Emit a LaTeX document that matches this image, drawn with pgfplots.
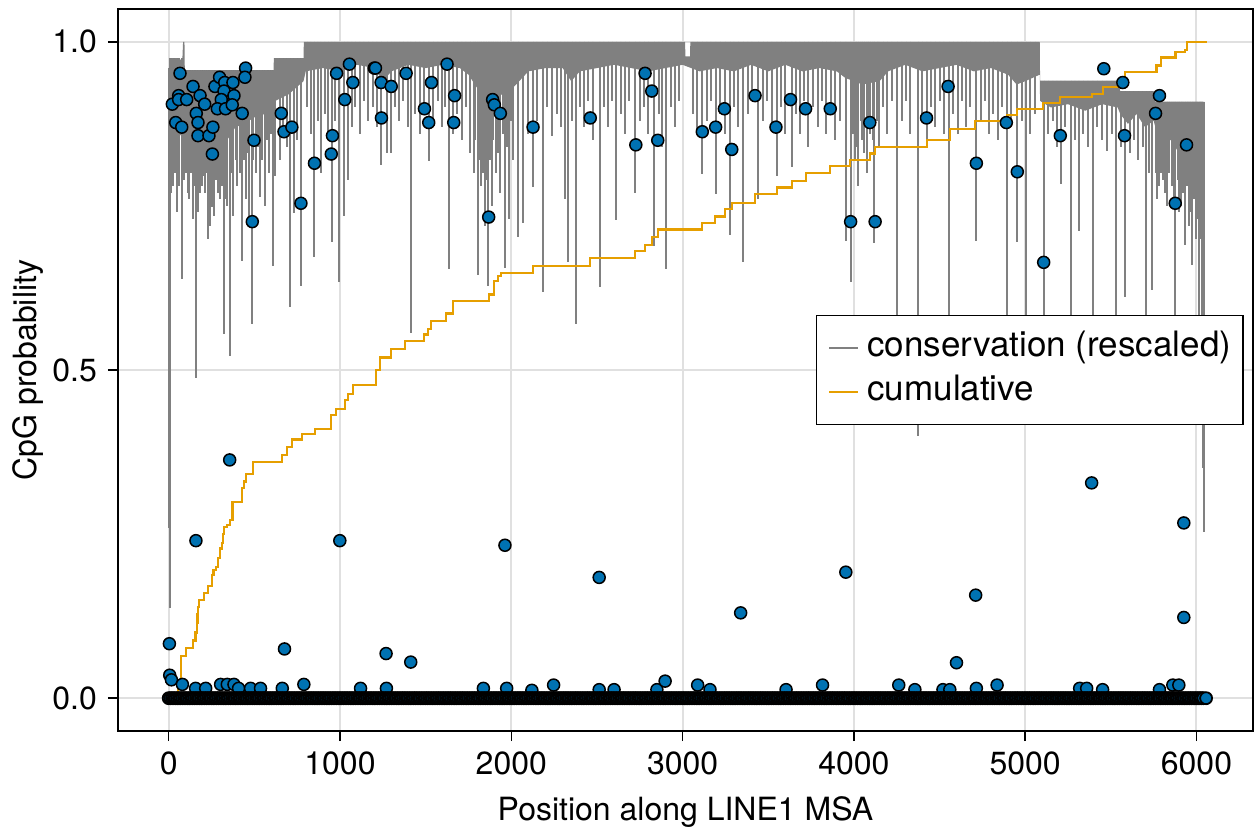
\documentclass[border=0pt]{standalone}
\usepackage{pgfplots}
\pgfplotsset{compat=1.18}
\usepackage{fontspec}
\setmainfont{TeX Gyre Heros}
\definecolor{cgray}{RGB}{128,128,128}
\definecolor{cblue}{RGB}{0,114,178}
\definecolor{corange}{RGB}{230,159,0}
\begin{document}
\fontsize{16}{19}\selectfont
\begin{tikzpicture}
\useasboundingbox (-59pt,-50.5pt) rectangle (568pt,365.5pt);
\begin{axis}[
  scale only axis, width=567.5pt, height=361pt,
  xmin=-296, xmax=6330, ymin=-0.05, ymax=1.05,
  xtick={0,1000,2000,3000,4000,5000,6000},
  xticklabels={0,1000,2000,3000,4000,5000,6000},
  ytick={0,0.5,1}, yticklabels={0.0,0.5,1.0},
  scaled ticks=false,
  /pgf/number format/assume math mode=true,
  tick label style={font=\fontsize{16}{19}\selectfont},
  label style={font=\fontsize{16}{19}\selectfont},
  xlabel={Position along LINE1 MSA}, ylabel={CpG probability},
  xlabel style={at={(axis description cs:0.5,-0.12327)}, anchor=base},
  ylabel style={at={(axis description cs:-0.07137,0.5)}, anchor=base},
  grid=major, major grid style={draw=black!12, line width=1pt},
  axis line style={line width=0.75pt},
  tick align=outside, xtick pos=bottom, ytick pos=left,
  major tick length=5pt, tick style={black, line width=0.75pt},
  legend cell align=left,
  legend image code/.code={\draw[#1] (0pt,0pt) -- (14.5pt,0pt);},
  legend style={at={(axis description cs:0.992,0.5)}, anchor=east,
    draw=black, line width=0.75pt, fill=white,
    font=\fontsize{17.5}{21}\selectfont,
    inner xsep=6pt, inner ysep=7.5pt, row sep=4.5pt, column sep=4pt,
    nodes={inner sep=0pt, text height=13pt, text depth=4.5pt}},
]
% conservation: dense band
\addplot[draw=none, fill=cgray, forget plot] coordinates {
(0,0.96) (80,0.975) (84,1.0) (92,1.0) (94,0.957) (612,0.957) (614,0.975) (787,0.975) (789,1.0)
(3015,1.0) (3016,0.978) (3044,0.978) (3045,1.0) (5085,1.0) (5087,0.941) (5540,0.941) (5555,0.925)
(5750,0.925) (5760,0.909) (6040,0.909)
(6040,0.84) (5990,0.82) (5950,0.84) (5900,0.83) (5850,0.85) (5800,0.86) (5760,0.87) (5750,0.88)
(5700,0.87) (5650,0.89) (5600,0.875) (5555,0.89) (5540,0.90) (5450,0.905) (5350,0.895) (5250,0.905)
(5150,0.90) (5087,0.91) (5085,0.95) (5000,0.94) (4950,0.935) (4900,0.95) (4800,0.96) (4700,0.955)
(4600,0.965) (4500,0.96) (4400,0.955) (4300,0.965) (4200,0.955) (4150,0.94) (4050,0.935) (3950,0.945)
(3900,0.955) (3800,0.96) (3700,0.955) (3600,0.965) (3500,0.955) (3400,0.965) (3300,0.955) (3200,0.96)
(3100,0.955) (3000,0.965) (2900,0.96) (2800,0.955) (2700,0.96) (2600,0.965) (2500,0.96) (2400,0.955)
(2350,0.94) (2300,0.96) (2200,0.96) (2100,0.955) (2010,0.93) (1950,0.92) (1880,0.915) (1800,0.93)
(1750,0.95) (1700,0.96) (1600,0.965) (1500,0.96) (1400,0.965) (1300,0.955) (1250,0.94) (1200,0.96)
(1100,0.965) (1000,0.955) (900,0.96) (800,0.955) (787,0.94) (700,0.92) (622,0.91) (560,0.89)
(500,0.885) (440,0.875) (390,0.87) (340,0.85) (300,0.84) (250,0.845) (200,0.85) (150,0.845)
(100,0.85) (60,0.86) (20,0.85) (0,0.87)
} -- cycle;
% conservation: spikes (x, band top, dip)
\addplot[forget plot, only marks, mark=*, mark size=0pt, mark options={draw=none, fill=none},
  error bars/.cd, y dir=minus, y explicit, error mark=none,
  error bar style={draw=cgray, line width=1pt}]
  table[x=x, y=top, y error expr=\thisrow{top}-\thisrow{low}] {
x top low
4 0.96 0.26
6 0.96 0.137
10 0.975 0.80
15 0.975 0.77
26 0.975 0.78
36 0.975 0.80
50 0.975 0.74
60 0.975 0.78
78 0.975 0.639
90 0.957 0.79
100 0.957 0.80
110 0.957 0.77
120 0.957 0.76
130 0.957 0.80
140 0.957 0.73
150 0.957 0.78
159 0.957 0.488
170 0.957 0.74
185 0.957 0.77
195 0.957 0.78
200 0.957 0.795
210 0.957 0.77
220 0.957 0.80
230 0.957 0.70
240 0.957 0.72
255 0.957 0.749
266 0.957 0.735
275 0.957 0.79
285 0.957 0.77
297 0.957 0.76
310 0.957 0.78
321 0.957 0.555
330 0.957 0.76
340 0.957 0.75
356 0.957 0.522
365 0.957 0.80
376 0.957 0.734
390 0.957 0.82
400 0.957 0.78
415 0.957 0.80
428 0.957 0.666
440 0.957 0.82
450 0.957 0.76
460 0.957 0.83
471 0.957 0.734
486 0.957 0.570
495 0.957 0.82
510 0.957 0.80
520 0.957 0.84
531 0.957 0.764
545 0.957 0.82
560 0.957 0.75
575 0.957 0.85
585 0.957 0.80
595 0.957 0.86
608 0.957 0.659
618 0.975 0.795
647 0.975 0.82
670 0.975 0.86
690 0.975 0.84
709 0.975 0.596
730 0.975 0.739
750 0.975 0.85
772 0.975 0.628
810 1 0.90
830 1 0.86
851 1 0.672
870 1 0.88
889 1 0.80
910 1 0.89
930 1 0.85
952 1 0.695
970 1 0.88
997 1 0.634
1026 1 0.735
1045 1 0.79
1070 1 0.87
1090 1 0.90
1115 1 0.86
1140 1 0.91
1165 1 0.88
1190 1 0.90
1215 1 0.87
1242 1 0.812
1276 1 0.83
1299 1 0.83
1320 1 0.90
1345 1 0.88
1370 1 0.91
1395 1 0.87
1413 1 0.557
1440 1 0.89
1465 1 0.86
1490 1 0.90
1518 1 0.818
1545 1 0.88
1570 1 0.91
1595 1 0.87
1615 1 0.90
1639 1 0.654
1660 1 0.86
1685 1 0.89
1710 1 0.85
1735 1 0.90
1760 1 0.83
1780 1 0.80
1790 1 0.85
1804 1 0.644
1815 1 0.82
1825 1 0.78
1835 1 0.80
1845 1 0.72
1855 1 0.79
1866 1 0.628
1875 1 0.82
1885 1 0.75
1895 1 0.85
1910 1 0.80
1920 1 0.83
1935 1 0.77
1950 1 0.86
1963 1 0.656
1975 1 0.84
1985 1 0.73
2000 1 0.88
2010 1 0.82
2041 1 0.702
2068 1 0.724
2095 1 0.86
2127 1 0.779
2150 1 0.88
2185 1 0.619
2210 1 0.90
2237 1 0.856
2265 1 0.89
2290 1 0.87
2311 1 0.761
2331 1 0.664
2355 1 0.88
2377 1 0.570
2400 1 0.90
2425 1 0.87
2450 1 0.91
2475 1 0.85
2515 1 0.626
2540 1 0.90
2565 1 0.87
2590 1 0.91
2612 1 0.729
2640 1 0.89
2665 1 0.86
2690 1 0.91
2725 1 0.769
2750 1 0.88
2775 1 0.90
2800 1 0.86
2836 1 0.689
2860 1 0.89
2880 1 0.84
2902 1 0.654
2930 1 0.90
2955 1 0.87
2980 1 0.91
3060 1 0.89
3085 1 0.86
3116 1 0.799
3140 1 0.88
3165 1 0.91
3195 1 0.768
3220 1 0.89
3250 1 0.86
3277 1 0.705
3300 1 0.90
3325 1 0.87
3355 1 0.664
3380 1 0.89
3405 1 0.92
3442 1 0.761
3470 1 0.88
3495 1 0.91
3520 1 0.87
3549 1 0.796
3575 1 0.90
3600 1 0.86
3637 1 0.809
3660 1 0.89
3685 1 0.86
3710 1 0.91
3735 1 0.84
3760 1 0.90
3790 1 0.87
3815 1 0.91
3840 1 0.86
3865 1 0.89
3890 1 0.85
3920 1 0.88
3953 1 0.697
3983 1 0.634
3995 1 0.86
4005 1 0.82
4015 1 0.84
4025 1 0.781
4040 1 0.88
4050 1 0.85
4060 1 0.83
4075 1 0.80
4085 1 0.87
4095 1 0.86
4110 1 0.85
4120 1 0.693
4135 1 0.88
4145 1 0.84
4170 1 0.90
4195 1 0.86
4220 1 0.91
4253 1 0.50
4280 1 0.88
4305 1 0.91
4330 1 0.86
4375 1 0.40
4400 1 0.89
4425 1 0.85
4450 1 0.90
4475 1 0.87
4500 1 0.91
4525 1 0.86
4556 1 0.50
4580 1 0.89
4605 1 0.86
4630 1 0.91
4655 1 0.87
4680 1 0.90
4711 1 0.697
4740 1 0.88
4765 1 0.91
4790 1 0.86
4815 1 0.89
4840 1 0.85
4865 1 0.90
4894 1 0.50
4920 1 0.87
4954 1 0.695
4980 1 0.88
5005 1 0.50
5030 1 0.86
5060 1 0.89
5110 0.941 0.50
5135 0.941 0.86
5160 0.941 0.88
5185 0.941 0.84
5207 0.941 0.784
5230 0.941 0.87
5268 0.941 0.50
5290 0.941 0.85
5314 0.941 0.712
5340 0.941 0.86
5365 0.941 0.84
5393 0.941 0.50
5420 0.941 0.87
5450 0.941 0.85
5477 0.941 0.833
5505 0.941 0.86
5532 0.941 0.50
5560 0.925 0.84
5584 0.925 0.611
5610 0.925 0.83
5635 0.925 0.85
5660 0.925 0.82
5685 0.925 0.84
5707 0.925 0.50
5725 0.925 0.80
5740 0.925 0.622
5765 0.909 0.80
5770 0.909 0.76
5780 0.909 0.78
5790 0.909 0.80
5804 0.909 0.79
5815 0.909 0.77
5830 0.909 0.75
5842 0.909 0.80
5855 0.909 0.78
5868 0.909 0.76
5877 0.909 0.50
5890 0.909 0.79
5900 0.909 0.74
5910 0.909 0.75
5920 0.909 0.77
5935 0.909 0.69
5945 0.909 0.78
5955 0.909 0.72
5965 0.909 0.74
5975 0.909 0.66
5985 0.909 0.76
5995 0.909 0.70
6005 0.909 0.73
6015 0.909 0.50
6022 0.909 0.70
6030 0.909 0.42
6040 0.909 0.35
6045 0.909 0.253
};
\addlegendimage{cgray, line width=1pt}
\addlegendentry{conservation (rescaled)}
% cumulative
\addplot[const plot, corange, line width=1.1pt, forget plot] coordinates {
(0,0) (56,0.023) (70,0.064) (101,0.076) (144,0.088) (157,0.100) (163,0.115) (168,0.128)
(173,0.139) (179,0.150) (208,0.160) (231,0.171) (251,0.188) (262,0.195) (276,0.200) (290,0.213)
(299,0.228) (309,0.236) (316,0.250) (323,0.261) (342,0.264) (358,0.271) (373,0.299) (426,0.320)
(440,0.330) (449,0.342) (494,0.360) (660,0.370) (689,0.383) (718,0.394) (776,0.402) (852,0.410)
(949,0.431) (978,0.441) (1027,0.454) (1047,0.464) (1076,0.477) (1208,0.500) (1235,0.519)
(1300,0.532) (1378,0.544) (1490,0.554) (1514,0.562) (1533,0.575) (1621,0.586) (1660,0.605)
(1869,0.615) (1898,0.636) (1922,0.643) (1938,0.648) (2128,0.658) (2459,0.671) (2722,0.681)
(2781,0.691) (2820,0.703) (2858,0.714) (3111,0.724) (3189,0.734) (3247,0.745) (3287,0.755)
(3423,0.768) (3549,0.778) (3637,0.788) (3719,0.800) (3860,0.811) (3977,0.820) (4094,0.830)
(4123,0.840) (4425,0.850) (4561,0.867) (4707,0.879) (4892,0.889) (4950,0.898) (5106,0.907)
(5203,0.916) (5388,0.921) (5456,0.931) (5582,0.954) (5767,0.964) (5791,0.976) (5878,0.984)
(5933,0.988) (5943,1.0) (6060,1.0)
};
\addlegendimage{corange, line width=1.1pt}
\addlegendentry{cumulative}
% CpG points slightly above zero
\addplot[forget plot, only marks, mark=*, mark size=3pt,
  mark options={fill=cblue, draw=black, line width=0.75pt}] coordinates {
(6,0.035)(16,0.028)(80,0.021)(157,0.015)(216,0.015)(303,0.021)(342,0.021)(381,0.021)(408,0.015)
(478,0.015)(536,0.015)(663,0.015)(789,0.021)(1120,0.015)(1271,0.015)(1837,0.015)(1973,0.015)
(2120,0.012)(2247,0.02)(2513,0.013)(2600,0.013)(2850,0.013)(2898,0.026)(3088,0.02)(3160,0.013)
(3604,0.013)(3817,0.02)(4262,0.02)(4356,0.013)(4520,0.013)(4560,0.013)(4715,0.015)(4836,0.02)
(5318,0.015)(5359,0.015)(5452,0.013)(5784,0.013)(5862,0.02)(5897,0.02)
};
% CpG points at zero
\addplot[forget plot, only marks, mark=*, mark size=3pt,
  mark options={fill=cblue, draw=black, line width=0.9pt}] coordinates {
(0,0)(10,0)(20,0)(30,0)(40,0)(50,0)(60,0)(70,0)(80,0)(90,0)(100,0)(110,0)(120,0)(130,0)(140,0)(150,0)(160,0)(170,0)(180,0)(190,0)
(200,0)(210,0)(220,0)(230,0)(240,0)(250,0)(260,0)(270,0)(280,0)(290,0)(300,0)(310,0)(320,0)(330,0)(340,0)(350,0)(360,0)(370,0)(380,0)(390,0)
(400,0)(410,0)(420,0)(430,0)(440,0)(450,0)(460,0)(470,0)(480,0)(490,0)(500,0)(510,0)(520,0)(530,0)(540,0)(550,0)(560,0)(570,0)(580,0)(590,0)
(600,0)(610,0)(620,0)(630,0)(640,0)(650,0)(660,0)(670,0)(680,0)(690,0)(700,0)(710,0)(720,0)(730,0)(740,0)(750,0)(760,0)(770,0)(780,0)(790,0)
(800,0)(810,0)(820,0)(830,0)(840,0)(850,0)(860,0)(870,0)(880,0)(890,0)(900,0)(910,0)(920,0)(930,0)(940,0)(950,0)(960,0)(970,0)(980,0)(990,0)
(1000,0)(1010,0)(1020,0)(1030,0)(1040,0)(1050,0)(1060,0)(1070,0)(1080,0)(1090,0)(1100,0)(1110,0)(1120,0)(1130,0)(1140,0)(1150,0)(1160,0)(1170,0)(1180,0)(1190,0)
(1200,0)(1210,0)(1220,0)(1230,0)(1240,0)(1250,0)(1260,0)(1270,0)(1280,0)(1290,0)(1300,0)(1310,0)(1320,0)(1330,0)(1340,0)(1350,0)(1360,0)(1370,0)(1380,0)(1390,0)
(1400,0)(1410,0)(1420,0)(1430,0)(1440,0)(1450,0)(1460,0)(1470,0)(1480,0)(1490,0)(1500,0)(1510,0)(1520,0)(1530,0)(1540,0)(1550,0)(1560,0)(1570,0)(1580,0)(1590,0)
(1600,0)(1610,0)(1620,0)(1630,0)(1640,0)(1650,0)(1660,0)(1670,0)(1680,0)(1690,0)(1700,0)(1710,0)(1720,0)(1730,0)(1740,0)(1750,0)(1760,0)(1770,0)(1780,0)(1790,0)
(1800,0)(1810,0)(1820,0)(1830,0)(1840,0)(1850,0)(1860,0)(1870,0)(1880,0)(1890,0)(1900,0)(1910,0)(1920,0)(1930,0)(1940,0)(1950,0)(1960,0)(1970,0)(1980,0)(1990,0)
(2000,0)(2010,0)(2020,0)(2030,0)(2040,0)(2050,0)(2060,0)(2070,0)(2080,0)(2090,0)(2100,0)(2110,0)(2120,0)(2130,0)(2140,0)(2150,0)(2160,0)(2170,0)(2180,0)(2190,0)
(2200,0)(2210,0)(2220,0)(2230,0)(2240,0)(2250,0)(2260,0)(2270,0)(2280,0)(2290,0)(2300,0)(2310,0)(2320,0)(2330,0)(2340,0)(2350,0)(2360,0)(2370,0)(2380,0)(2390,0)
(2400,0)(2410,0)(2420,0)(2430,0)(2440,0)(2450,0)(2460,0)(2470,0)(2480,0)(2490,0)(2500,0)(2510,0)(2520,0)(2530,0)(2540,0)(2550,0)(2560,0)(2570,0)(2580,0)(2590,0)
(2600,0)(2610,0)(2620,0)(2630,0)(2640,0)(2650,0)(2660,0)(2670,0)(2680,0)(2690,0)(2700,0)(2710,0)(2720,0)(2730,0)(2740,0)(2750,0)(2760,0)(2770,0)(2780,0)(2790,0)
(2800,0)(2810,0)(2820,0)(2830,0)(2840,0)(2850,0)(2860,0)(2870,0)(2880,0)(2890,0)(2900,0)(2910,0)(2920,0)(2930,0)(2940,0)(2950,0)(2960,0)(2970,0)(2980,0)(2990,0)
(3000,0)(3010,0)(3020,0)(3030,0)(3040,0)(3050,0)(3060,0)(3070,0)(3080,0)(3090,0)(3100,0)(3110,0)(3120,0)(3130,0)(3140,0)(3150,0)(3160,0)(3170,0)(3180,0)(3190,0)
(3200,0)(3210,0)(3220,0)(3230,0)(3240,0)(3250,0)(3260,0)(3270,0)(3280,0)(3290,0)(3300,0)(3310,0)(3320,0)(3330,0)(3340,0)(3350,0)(3360,0)(3370,0)(3380,0)(3390,0)
(3400,0)(3410,0)(3420,0)(3430,0)(3440,0)(3450,0)(3460,0)(3470,0)(3480,0)(3490,0)(3500,0)(3510,0)(3520,0)(3530,0)(3540,0)(3550,0)(3560,0)(3570,0)(3580,0)(3590,0)
(3600,0)(3610,0)(3620,0)(3630,0)(3640,0)(3650,0)(3660,0)(3670,0)(3680,0)(3690,0)(3700,0)(3710,0)(3720,0)(3730,0)(3740,0)(3750,0)(3760,0)(3770,0)(3780,0)(3790,0)
(3800,0)(3810,0)(3820,0)(3830,0)(3840,0)(3850,0)(3860,0)(3870,0)(3880,0)(3890,0)(3900,0)(3910,0)(3920,0)(3930,0)(3940,0)(3950,0)(3960,0)(3970,0)(3980,0)(3990,0)
(4000,0)(4010,0)(4020,0)(4030,0)(4040,0)(4050,0)(4060,0)(4070,0)(4080,0)(4090,0)(4100,0)(4110,0)(4120,0)(4130,0)(4140,0)(4150,0)(4160,0)(4170,0)(4180,0)(4190,0)
(4200,0)(4210,0)(4220,0)(4230,0)(4240,0)(4250,0)(4260,0)(4270,0)(4280,0)(4290,0)(4300,0)(4310,0)(4320,0)(4330,0)(4340,0)(4350,0)(4360,0)(4370,0)(4380,0)(4390,0)
(4400,0)(4410,0)(4420,0)(4430,0)(4440,0)(4450,0)(4460,0)(4470,0)(4480,0)(4490,0)(4500,0)(4510,0)(4520,0)(4530,0)(4540,0)(4550,0)(4560,0)(4570,0)(4580,0)(4590,0)
(4600,0)(4610,0)(4620,0)(4630,0)(4640,0)(4650,0)(4660,0)(4670,0)(4680,0)(4690,0)(4700,0)(4710,0)(4720,0)(4730,0)(4740,0)(4750,0)(4760,0)(4770,0)(4780,0)(4790,0)
(4800,0)(4810,0)(4820,0)(4830,0)(4840,0)(4850,0)(4860,0)(4870,0)(4880,0)(4890,0)(4900,0)(4910,0)(4920,0)(4930,0)(4940,0)(4950,0)(4960,0)(4970,0)(4980,0)(4990,0)
(5000,0)(5010,0)(5020,0)(5030,0)(5040,0)(5050,0)(5060,0)(5070,0)(5080,0)(5090,0)(5100,0)(5110,0)(5120,0)(5130,0)(5140,0)(5150,0)(5160,0)(5170,0)(5180,0)(5190,0)
(5200,0)(5210,0)(5220,0)(5230,0)(5240,0)(5250,0)(5260,0)(5270,0)(5280,0)(5290,0)(5300,0)(5310,0)(5320,0)(5330,0)(5340,0)(5350,0)(5360,0)(5370,0)(5380,0)(5390,0)
(5400,0)(5410,0)(5420,0)(5430,0)(5440,0)(5450,0)(5460,0)(5470,0)(5480,0)(5490,0)(5500,0)(5510,0)(5520,0)(5530,0)(5540,0)(5550,0)(5560,0)(5570,0)(5580,0)(5590,0)
(5600,0)(5610,0)(5620,0)(5630,0)(5640,0)(5650,0)(5660,0)(5670,0)(5680,0)(5690,0)(5700,0)(5710,0)(5720,0)(5730,0)(5740,0)(5750,0)(5760,0)(5770,0)(5780,0)(5790,0)
(5800,0)(5810,0)(5820,0)(5830,0)(5840,0)(5850,0)(5860,0)(5870,0)(5880,0)(5890,0)(5900,0)(5910,0)(5920,0)(5930,0)(5940,0)(5950,0)(5960,0)(5970,0)(5980,0)(5990,0)
(6000,0)(6010,0)(6020,0)(6030,0)(6040,0)(6056,0)
};
% CpG points, higher probabilities
\addplot[forget plot, only marks, mark=*, mark size=3pt,
  mark options={fill=cblue, draw=black, line width=0.75pt}] coordinates {
(4,0.083)(676,0.075)(1269,0.068)(1413,0.055)(4599,0.054)
(159,0.240)(356,0.363)(999,0.240)(1963,0.233)(2513,0.184)(3339,0.130)(3953,0.192)(4711,0.157)
(5388,0.328)(5926,0.267)(5926,0.123)
(66,0.952)(21,0.905)(58,0.918)(58,0.912)(105,0.912)(142,0.932)(183,0.918)(210,0.905)(161,0.891)
(171,0.877)(41,0.877)(76,0.870)(171,0.857)(235,0.857)(258,0.870)(255,0.829)(270,0.932)(297,0.946)
(327,0.938)(375,0.938)(323,0.925)(381,0.918)(307,0.912)(284,0.898)(332,0.898)(371,0.904)(449,0.960)
(445,0.946)(429,0.891)(498,0.850)(488,0.726)(657,0.891)(673,0.863)(719,0.870)(772,0.754)(851,0.815)
(949,0.829)(956,0.857)(1028,0.912)(980,0.952)(1055,0.966)(1075,0.938)
(1200,0.960)(1207,0.960)(1240,0.938)(1299,0.932)(1242,0.884)(1386,0.952)(1534,0.938)(1493,0.898)
(1518,0.877)(1625,0.966)(1669,0.918)(1664,0.877)(1891,0.912)(1901,0.904)(1936,0.891)(1868,0.733)
(2127,0.870)
(2461,0.884)(2781,0.952)(2820,0.925)(2727,0.843)(2855,0.850)(3115,0.863)(3193,0.870)(3244,0.898)
(3287,0.836)(3423,0.918)(3545,0.870)(3630,0.912)
(3718,0.898)(3862,0.898)(4093,0.877)(3981,0.726)(4124,0.726)(4424,0.884)(4550,0.932)(4715,0.815)
(4890,0.877)(4954,0.802)(5108,0.664)(5205,0.857)(5459,0.959)(5570,0.938)(5580,0.857)(5784,0.918)
(5761,0.891)(5876,0.754)(5942,0.843)
};
\end{axis}
\end{tikzpicture}
\end{document}
